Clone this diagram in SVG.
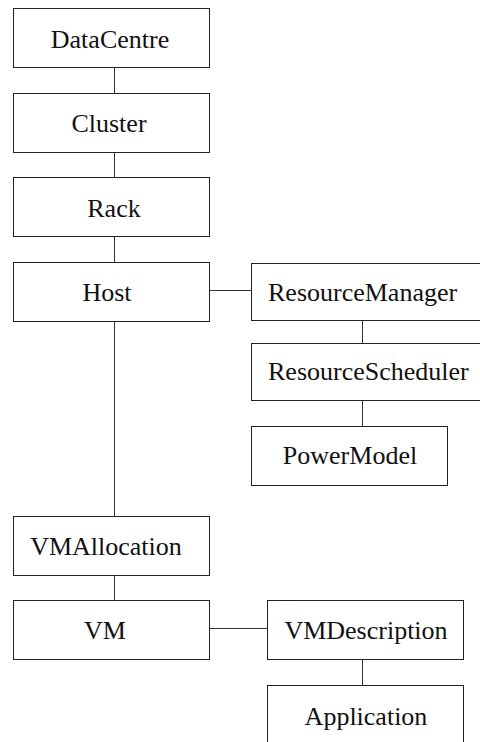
<svg xmlns="http://www.w3.org/2000/svg" width="480" height="742" viewBox="0 0 480 742">
<style>
.box{fill:#fff;stroke:#222;stroke-width:1}
.lbl{font-family:"Liberation Serif","Times New Roman",serif;font-size:26px;fill:#111}
.c{text-anchor:middle}
.conn line{stroke:#333;stroke-width:1}
</style>
<rect width="480" height="742" fill="#fff"/>
<g id="connectors" class="conn">
<line x1="114.5" y1="67.5" x2="114.5" y2="93.5"/>
<line x1="114.5" y1="152.5" x2="114.5" y2="177.5"/>
<line x1="114.5" y1="236.5" x2="114.5" y2="262.5"/>
<line x1="114.5" y1="321.5" x2="114.5" y2="516.5"/>
<line x1="114.5" y1="575.5" x2="114.5" y2="600.5"/>
<line x1="209.5" y1="290.5" x2="251.5" y2="290.5"/>
<line x1="362.5" y1="320.5" x2="362.5" y2="343.5"/>
<line x1="362.5" y1="400.5" x2="362.5" y2="426.5"/>
<line x1="209.5" y1="628.5" x2="267.5" y2="628.5"/>
<line x1="362.5" y1="659.5" x2="362.5" y2="685.5"/>
</g>
<g id="datacentre"><rect class="box" x="13.5" y="8.5" width="196" height="59"/><text class="lbl c" x="110" y="48">DataCentre</text></g>
<g id="cluster"><rect class="box" x="13.5" y="93.5" width="196" height="59"/><text class="lbl c" x="109" y="132">Cluster</text></g>
<g id="rack"><rect class="box" x="13.5" y="177.5" width="196" height="59"/><text class="lbl c" x="114" y="217">Rack</text></g>
<g id="host"><rect class="box" x="13.5" y="262.5" width="196" height="59"/><text class="lbl c" x="107" y="301">Host</text></g>
<g id="resourcemanager"><rect class="box" x="251.5" y="263.5" width="240" height="57"/><text class="lbl" x="268" y="301">ResourceManager</text></g>
<g id="resourcescheduler"><rect class="box" x="251.5" y="343.5" width="240" height="57"/><text class="lbl" x="268" y="380">ResourceScheduler</text></g>
<g id="powermodel"><rect class="box" x="251.5" y="426.5" width="196" height="59"/><text class="lbl c" x="350" y="464">PowerModel</text></g>
<g id="vmallocation"><rect class="box" x="13.5" y="516.5" width="196" height="59"/><text class="lbl c" x="106" y="555">VMAllocation</text></g>
<g id="vm"><rect class="box" x="13.5" y="600.5" width="196" height="59"/><text class="lbl c" x="105" y="639">VM</text></g>
<g id="vmdescription"><rect class="box" x="267.5" y="600.5" width="196" height="59"/><text class="lbl c" x="366" y="639">VMDescription</text></g>
<g id="application"><rect class="box" x="267.5" y="685.5" width="196" height="80"/><text class="lbl c" x="366" y="725">Application</text></g>
</svg>
